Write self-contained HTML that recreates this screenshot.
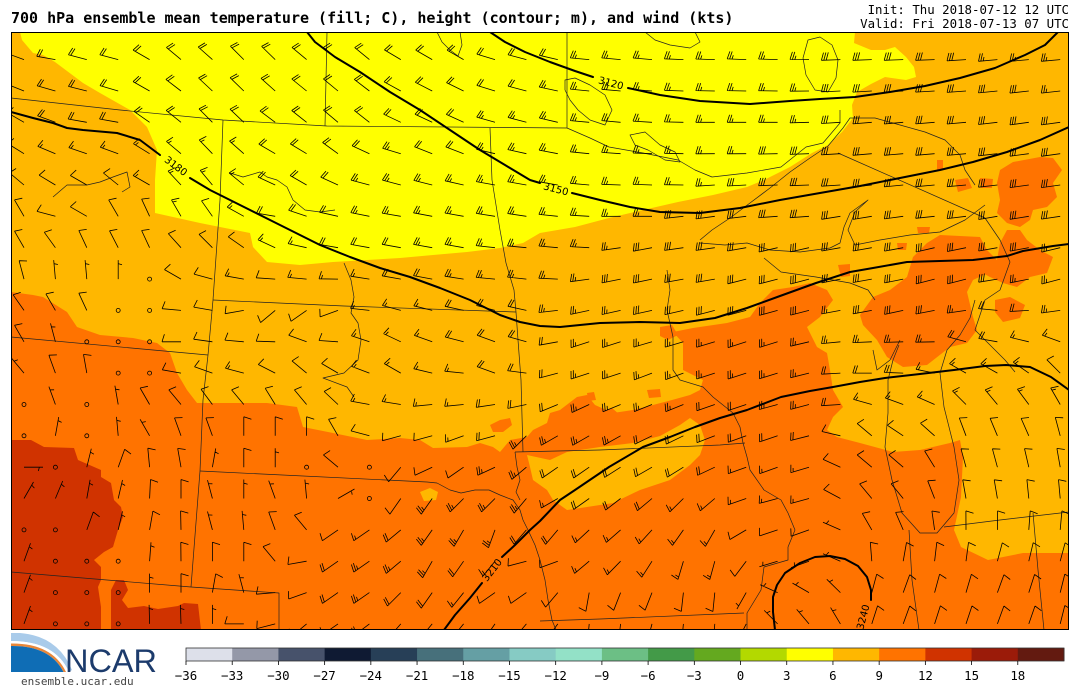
<!DOCTYPE html>
<html><head><meta charset="utf-8"><style>
html,body{margin:0;padding:0;background:#fff;}
svg{display:block;}
</style></head><body>
<svg id="s" width="1080" height="693" viewBox="0 0 1080 693" xmlns="http://www.w3.org/2000/svg">
<defs><clipPath id="mc"><rect x="11" y="32" width="1058" height="598"/></clipPath></defs>
<rect width="1080" height="693" fill="#fff"/>
<text x="11" y="23" font-family="'DejaVu Sans Mono','Liberation Mono',monospace" font-weight="bold" font-size="15" fill="#000">700 hPa ensemble mean temperature (fill; C), height (contour; m), and wind (kts)</text>
<text x="1069" y="14" text-anchor="end" font-family="'DejaVu Sans Mono','Liberation Mono',monospace" font-size="12.4" fill="#000">Init: Thu 2018-07-12 12 UTC</text>
<text x="1069" y="28" text-anchor="end" font-family="'DejaVu Sans Mono','Liberation Mono',monospace" font-size="12.4" fill="#000">Valid: Fri 2018-07-13 07 UTC</text>
<g clip-path="url(#mc)">
<rect x="11" y="32" width="1058" height="598" fill="#ffb700"/>
<polygon fill="#ffff00" points="20,32 855,32 854,43 871,50 885,50 895,47 906,57 914,67 916,77 906,80 885,77 871,84 857,92 852,105 853,118 842,132 828,145 812,153 790,167 764,180 747,187 713,195 678,202 643,210 609,218 575,227 540,233 523,243 500,248 467,252 433,255 400,258 367,260 333,262 300,265 267,262 253,247 250,233 200,223 155,213 155,180 157,150 147,127 130,110 100,93 83,83 55,62 43,55 33,53 22,40"/>
<polygon fill="#ff7300" points="11,292 33,295 43,297 67,312 77,327 100,335 133,338 157,343 170,353 177,373 187,390 197,403 233,403 267,403 297,407 303,427 333,433 367,440 400,438 420,440 433,448 467,447 480,443 493,447 500,452 510,440 527,437 533,430 547,423 550,413 560,410 577,397 587,395 595,405 613,413 633,410 653,405 672,400 690,395 700,390 703,380 683,370 683,343 673,332 693,328 727,323 750,317 760,303 773,290 793,287 810,283 827,290 833,300 820,317 807,327 817,347 827,353 830,370 833,390 843,407 833,417 827,430 837,437 860,443 893,452 920,450 950,443 960,440 963,457 961,497 954,530 961,547 988,560 1023,553 1069,553 1069,630 11,630"/>
<polygon fill="#ffb700" points="527,455 550,460 567,452 600,447 633,443 660,436 680,425 690,418 700,425 705,440 700,455 690,465 670,480 640,490 613,503 587,507 567,510 553,500 547,490 533,480 530,467"/>
<polygon fill="#ffb700" points="420,492 430,488 438,492 436,500 424,501"/>
<g fill="#ff7300">
<polygon points="490,425 500,420 510,418 512,425 503,432 493,432"/>
<polygon points="587,393 594,392 596,400 588,401"/>
<polygon points="600,412 612,408 620,415 615,425 603,424"/>
<polygon points="647,390 660,389 661,397 649,398"/>
<polygon points="660,327 672,325 678,335 668,340 660,336"/>
<polygon points="838,265 850,264 850,276 841,277"/>
<polygon points="927,243 940,235 980,237 987,250 997,260 990,272 973,280 967,292 973,317 977,330 967,343 950,347 927,365 903,367 887,357 877,340 863,325 860,315 873,297 890,290 907,277 913,257"/>
<polygon points="1000,170 1013,162 1040,157 1053,158 1062,170 1053,183 1057,197 1047,207 1033,210 1030,220 1020,227 1007,223 997,213 1000,200 997,183"/>
<polygon points="1007,230 1020,230 1027,240 1040,250 1053,257 1047,273 1030,277 1017,287 1003,283 990,277 977,270 997,260 1000,243"/>
<polygon points="995,300 1010,297 1025,305 1020,318 1003,322 995,312"/>
<polygon points="955,180 968,178 972,188 958,192"/>
<polygon points="937,160 943,160 943,170 937,170"/>
<polygon points="980,178 993,179 992,188 981,188"/>
<polygon points="897,243 907,243 906,250 898,250"/>
<polygon points="917,227 930,227 929,233 918,233"/>
</g>
<polygon fill="#d03300" points="11,440 31,440 44,447 74,448 78,460 101,470 101,477 111,483 114,500 121,507 123,517 118,530 113,547 104,552 94,560 101,567 101,580 98,587 101,607 101,630 11,630"/>
<polygon fill="#d03300" points="111,630 111,590 116,580 124,580 128,590 122,600 128,608 144,606 158,609 178,606 184,603 198,604 201,630"/>
<g fill="none" stroke="#222" stroke-width="0.7" stroke-linejoin="round">
<path d="M11,98 L120,110 L223,120 L327,126 L567,128"/>
<path d="M327,32 L326,80 L325,126"/>
<path d="M567,32 L567,128"/>
<path d="M223,120 L220,200 L213,300 L208,355 L203,400 L200,471 L191,587"/>
<path d="M11,337 L208,355"/>
<path d="M213,300 L344,306 L516,312"/>
<path d="M200,471 L427,482 L437,483 L450,490 L461,493 L475,490 L489,490 L500,495 L513,500 L520,510 L523,520 L528,530 L535,545 L540,560 L545,580 L548,600 L552,620 L556,630"/>
<path d="M11,572 L191,587 L279,593 L279,630"/>
<path d="M490,128 L492,180 L500,230 L506,263 L514,290 L516,312 L518,340 L521,380 L523,452"/>
<path d="M515,452 L600,450 L720,445 L745,443"/>
<path d="M515,452 L517,467 L520,480 L516,492 L520,500"/>
<path d="M667,270 L670,290 L667,310 L673,337 L673,370 L680,380 L703,387 L713,397 L733,413 L740,427 L743,443 L747,457 L750,470 L764,490 L781,500 L788,513 L795,530 L788,547 L788,560 L764,567 L761,590 L747,613 L747,630"/>
<path d="M540,621 L600,619 L744,613"/>
<path d="M909,530 L912,580 L919,630"/>
<path d="M1033,513 L1038,570 L1044,630"/>
<path d="M944,527 L1000,520 L1069,512"/>
<path d="M899,345 L893,360 L888,380 L888,413 L885,447 L892,480 L902,513 L920,533 L937,533 L954,513 L959,480 L954,447 L944,407 L940,373 L947,350 L960,335 L970,318 L975,300"/>
<path d="M873,350 L877,370 L890,360 L900,340"/>
<path d="M700,240 L712,230 L730,218 L750,203 L770,188 L790,172 L810,158 L828,146 L843,128 L850,118 L875,118 L900,125 L925,132 L945,140 L960,155 L965,170 L975,185"/>
<path d="M700,243 L725,245 L747,243 L770,250 L800,252 L830,248 L840,243 L844,227 L850,213 L868,200 L855,212 L848,230 L855,245 L880,240 L910,235 L940,232 L965,220 L985,205"/>
<path d="M764,258 L781,272 L816,277 L850,283 L868,290 L875,300"/>
<path d="M838,153 L985,218"/>
<path d="M985,218 L1000,240 L1010,262 L1000,290 L985,300 L975,330 L990,345 L1005,360 L1015,372"/>
<path d="M567,128 L590,138 L609,147 L643,153 L678,160 L695,170 L712,177 L747,173 L781,167 L806,147 L823,143 L840,123 L840,110"/>
<path d="M53,197 L67,185 L87,185 L100,182 L113,177 L127,172 L130,187 L122,192"/>
<path d="M230,173 L243,177 L260,172 L267,177 L277,180 L287,187 L293,200 L305,210 L320,212 L335,210"/>
<path d="M344,263 L351,280 L354,297 L351,313 L358,323 L361,340 L358,360 L344,373 L323,378 L347,387 L354,397"/>
<path d="M565,80 L575,78 L590,85 L605,95 L612,110 L605,125 L590,120 L578,110 L570,100 L565,90 Z"/>
<path d="M808,40 L820,37 L832,45 L838,60 L836,78 L828,92 L815,90 L806,75 L803,58 Z"/>
<path d="M630,135 L645,132 L660,145 L675,152 L680,162 L665,160 L648,150 L635,145 Z"/>
<path d="M645,32 L655,40 L670,45 L690,48 L700,42 L695,32"/>
<path d="M437,32 L442,42 L450,50 L458,56 L462,45 L460,32"/>
</g>
<g id="barbs" fill="none" stroke="#000" stroke-width="0.8" stroke-linecap="butt"></g>
<g fill="none" stroke="#000" stroke-width="2" stroke-linejoin="round" stroke-linecap="round">
<polyline points="490,32 505,42 525,52 550,62 575,71 593,77"/>
<polyline points="628,88 660,95 700,101 750,104 790,101 820,99 855,97 890,92 925,86 960,78 995,68 1025,55 1045,45 1058,32"/>
<polyline points="307,32 315,42 335,57 360,72 390,92 420,110 450,130 480,150 505,165 530,180 540,183"/>
<polyline points="572,193 600,200 630,207 660,212 700,213 740,208 780,200 820,193 860,186 900,178 940,170 973,162 1007,152 1040,140 1069,127"/>
<polyline points="11,112 33,118 53,123 67,128 83,130 117,133 140,140 160,155"/>
<polyline points="190,178 210,190 240,205 270,220 300,235 320,245 350,257 380,268 410,277 440,288 470,300 500,315 520,322 540,326 560,327 600,323 640,322 680,323 715,318 747,308 780,296 816,283 850,272 873,268 907,262 940,261 973,260 1007,256 1023,251 1053,246 1069,244"/>
<polyline points="444,630 455,615 470,598 482,583"/>
<polyline points="502,557 515,545 530,530 540,521 560,500 575,490 609,467 643,447 670,437 695,427 720,418 747,410 781,397 810,391 833,387 860,382 885,378 920,374 954,370 985,366 1006,365 1030,367 1051,377 1069,390"/>
<polyline points="775,630 773,612 773,597 777,585 785,573 800,563 815,557 830,556 845,559 858,566 867,577 871,590 871,600"/>
</g>
<g font-family="'DejaVu Sans','Liberation Sans',sans-serif" font-size="10" fill="#000" text-anchor="middle">
<text transform="translate(176,166) rotate(37)" y="3.5">3180</text>
<text transform="translate(556,189) rotate(15)" y="3.5">3150</text>
<text transform="translate(611,83) rotate(15)" y="3.5">3120</text>
<text transform="translate(492,570) rotate(-52)" y="3.5">3210</text>
<text transform="translate(863,617) rotate(-75)" y="3.5">3240</text>
</g>
</g>
<rect x="11.5" y="32.5" width="1057" height="597" fill="none" stroke="#000" stroke-width="1"/>
<g id="cbar"></g>
<g font-family="'DejaVu Sans Mono','Liberation Mono',monospace" font-size="12.4" fill="#000" text-anchor="middle">
<text x="186" y="680">−36</text><text x="232.2" y="680">−33</text><text x="278.4" y="680">−30</text><text x="324.6" y="680">−27</text><text x="370.8" y="680">−24</text><text x="417.1" y="680">−21</text><text x="463.3" y="680">−18</text><text x="509.5" y="680">−15</text><text x="555.7" y="680">−12</text><text x="601.9" y="680">−9</text><text x="648.1" y="680">−6</text><text x="694.3" y="680">−3</text><text x="740.5" y="680">0</text><text x="786.7" y="680">3</text><text x="832.9" y="680">6</text><text x="879.2" y="680">9</text><text x="925.4" y="680">12</text><text x="971.6" y="680">15</text><text x="1017.8" y="680">18</text>
</g>
<path d="M11,633 L20,633 Q58,636 72,670 L69,672 Q55,641 11,641 Z" fill="#a9cbea"/>
<path d="M11,641 Q55,641 69,672 L66,672 Q52,643 11,643.5 Z" fill="#ffffff"/>
<path d="M11,643.5 Q52,643 66,672 L63.5,672 Q50,645.5 11,646 Z" fill="#e8873a"/>
<path d="M11,646 Q50,645.5 63.5,672 L11,672 Z" fill="#0f6db5"/>
<text x="65" y="672" font-family="'Liberation Sans',Arial,sans-serif" font-size="32" fill="#1c3b6c" textLength="92" lengthAdjust="spacingAndGlyphs">NCAR</text>
<text x="21" y="685" font-family="'DejaVu Sans Mono','Liberation Mono',monospace" font-size="11" fill="#444">ensemble.ucar.edu</text>
</svg>
<script>
(function(){
var NS="http://www.w3.org/2000/svg";
function el(tag,attrs,parent){var e=document.createElementNS(NS,tag);for(var k in attrs){e.setAttribute(k,attrs[k]);}parent.appendChild(e);return e;}
var cols=['#dde0ea','#9498a8','#47526b','#0f1a33','#273f57','#47707b','#659fa4','#86cbc4','#93e1c7','#6cbf85','#439a48','#64a91f','#b3d900','#ffff00','#ffb700','#ff7300','#d03300','#9b1b09','#631a10'];
var cb=document.getElementById('cbar');var x0=186,w=(1064-186)/19;
for(var i=0;i<19;i++){el('rect',{x:x0+i*w,y:648,width:w+0.5,height:13,fill:cols[i]},cb);}
el('rect',{x:186,y:648,width:878,height:13,fill:'none',stroke:'#333','stroke-width':0.8},cb);
for(var i=0;i<19;i++){var xx=x0+i*w;el('line',{x1:xx,y1:661,x2:xx,y2:665,stroke:'#000','stroke-width':0.8},cb);}
var A=[
[24,60,290,10],[55,60,280,20],[87,60,285,20],[118,60,285,20],[150,60,300,20],[181,60,310,20],[244,60,315,20],[340,60,310,20],[440,60,300,20],[530,60,285,20],[600,60,275,25],[750,60,272,25],[900,60,268,30],[1060,60,265,25],
[24,122,300,10],[55,122,290,20],[87,122,280,20],[118,122,280,20],[150,122,305,20],[212,122,315,20],[340,122,310,20],[440,122,295,20],[530,122,285,25],[600,122,275,25],[750,122,270,25],[900,122,265,30],[1060,122,262,30],
[24,185,310,10],[87,185,300,10],[150,185,300,15],[212,185,320,15],[300,185,300,20],[400,185,285,25],[530,185,280,25],[650,185,272,25],[800,185,268,30],[950,185,265,30],[1060,185,262,30],
[24,216,330,10],[55,216,285,10],[87,216,300,10],[118,216,330,10],[150,216,335,10],[181,216,330,15],[212,216,325,10],[275,216,280,20],[400,216,280,25],
[24,247,330,10],[87,247,335,10],[150,247,335,10],[212,247,315,10],[244,247,305,10],[275,247,295,15],[338,247,280,20],[450,247,280,25],[560,247,275,25],[700,247,262,30],[850,247,260,30],[1000,247,260,30],
[24,279,345,10],[55,279,355,5],[87,279,355,5],[118,279,0,5],[149,279,0,0],[181,279,300,10],[212,279,285,10],[244,279,280,15],[306,279,275,15],[400,279,280,20],[500,279,275,25],[650,279,258,30],[800,279,255,30],[950,279,255,30],[1060,279,255,25],
[24,310,325,10],[55,310,330,10],[87,310,335,10],[118,310,0,0],[149,310,0,0],[181,310,275,10],[212,310,280,10],[244,310,260,10],[275,310,230,10],[306,310,235,10],[338,310,250,10],[400,310,285,15],[500,310,285,20],[600,310,258,25],[750,310,255,30],[900,310,258,30],[1060,310,262,25],
[24,342,330,10],[55,342,345,5],[87,342,0,0],[118,342,0,0],[149,342,0,0],[181,342,270,10],[244,342,275,10],[306,342,290,10],[400,342,295,15],[500,342,290,20],[600,342,252,25],[750,342,252,25],[900,342,268,25],[1000,342,280,20],[1060,342,290,15],
[24,373,320,5],[55,373,340,10],[87,373,350,10],[118,373,0,0],[149,373,0,0],[181,373,280,10],[244,373,285,15],[306,373,310,10],[400,373,300,15],[500,373,290,20],[600,373,252,25],[750,373,252,25],[880,373,270,20],[980,373,300,15],[1060,373,315,10],
[24,405,0,0],[55,405,340,5],[87,405,0,0],[118,405,350,5],[150,405,330,10],[181,405,320,10],[244,405,320,10],[306,405,320,10],[380,405,280,15],[450,405,265,15],[530,405,258,20],[650,405,248,25],[800,405,255,25],[900,405,290,15],[1000,405,320,15],[1060,405,330,15],
[24,436,0,0],[55,436,10,5],[87,436,0,0],[150,436,330,5],[181,436,340,10],[212,436,340,10],[244,436,0,10],[275,436,0,10],[306,436,0,10],[338,436,330,10],[369,436,285,10],[400,436,255,10],[432,436,255,10],[463,436,250,15],[495,436,255,20],[526,436,225,25],[558,436,240,25],[589,436,240,25],[750,436,250,20],[880,436,310,10],[980,436,340,10],[1060,436,345,10],
[24,467,90,5],[55,467,0,0],[118,467,20,10],[181,467,350,10],[212,467,10,5],[244,467,0,10],[275,467,0,5],[306,467,0,0],[338,467,310,10],[369,467,0,0],[400,467,220,10],[432,467,245,10],[463,467,235,10],[495,467,245,25],[526,467,230,25],[558,467,235,20],[589,467,235,20],[650,467,240,20],[780,467,250,15],[880,467,310,10],[980,467,345,10],[1060,467,350,10],
[24,499,30,5],[87,499,10,5],[181,499,0,10],[212,499,345,5],[244,499,0,5],[275,499,340,5],[306,499,355,5],[338,499,60,5],[369,499,0,0],[400,499,215,10],[432,499,215,25],[463,499,225,25],[495,499,225,25],[526,499,220,25],[558,499,240,15],[650,499,230,20],[780,499,255,15],[880,499,320,10],[980,499,350,10],[1060,499,355,10],
[24,530,0,0],[55,530,0,0],[87,530,20,10],[150,530,10,10],[212,530,345,5],[244,530,355,5],[275,530,340,10],[306,530,320,10],[338,530,235,10],[369,530,235,15],[400,530,230,20],[432,530,215,25],[463,530,210,25],[495,530,200,25],[558,530,220,20],[680,530,215,15],[800,530,250,10],[880,530,330,10],[980,530,0,10],[1060,530,5,10],
[24,562,20,5],[87,562,0,0],[118,562,0,0],[212,562,0,10],[244,562,0,10],[275,562,320,10],[306,562,260,10],[338,562,235,20],[369,562,235,25],[400,562,230,25],[432,562,210,25],[463,562,215,20],[526,562,255,10],[558,562,250,10],[589,562,230,15],[700,562,195,15],[800,562,250,5],[900,562,10,10],[1000,562,15,10],[1060,562,15,10],
[24,593,20,5],[55,593,0,0],[87,593,0,0],[150,593,0,5],[181,593,0,10],[212,593,10,10],[244,593,345,5],[275,593,265,10],[306,593,250,10],[338,593,235,20],[369,593,235,25],[400,593,225,20],[432,593,215,20],[495,593,235,10],[526,593,235,10],[558,593,220,10],[589,593,190,10],[700,593,185,10],[800,593,300,5],[900,593,20,10],[1000,593,20,10],
[24,624,20,5],[87,624,0,0],[212,624,0,5],[244,624,270,10],[306,624,230,15],[420,624,220,20],[500,624,215,20],[600,624,185,10],[700,624,185,10],[800,624,320,5],[900,624,20,10],[1000,624,20,10]
];
function wind(x,y){var su=0,sv=0,sw=0;for(var k=0;k<A.length;k++){var a=A[k];var dx=x-a[0],dy=y-a[1];var d2=dx*dx+dy*dy;if(d2<4)return[a[2],a[3]];var ww=1/(d2*d2);var r=a[2]*Math.PI/180;su+=ww*a[3]*Math.sin(r);sv+=ww*a[3]*Math.cos(r);sw+=ww;}
su/=sw;sv/=sw;return[Math.atan2(su,sv)*180/Math.PI,Math.sqrt(su*su+sv*sv)];}
var L=19,sp=0.125*L,fh=0.4*L,fw=0.25*L;var d='';
var g=document.getElementById('barbs');
function f(v){return v.toFixed(1);}
for(var j=0;j<19;j++){var y=59.6+31.35*j;
for(var i=0;i<34;i++){var x=24+31.4*i;var wv=wind(x,y);var n=Math.round(wv[1]/5)*5;
if(n<5){el('circle',{cx:f(x),cy:f(y),r:2},g);continue;}
var th=wv[0]*Math.PI/180;var sx=Math.sin(th),sy=-Math.cos(th);var px=-sy,py=sx;
var tx=x+L*sx,ty=y+L*sy;d+='M'+f(x)+','+f(y)+'L'+f(tx)+','+f(ty);
var full=Math.floor(n/10),half=(n%10)>=5;var o=L;
for(var b=0;b<full;b++){var bx=x+o*sx,by=y+o*sy;d+='M'+f(bx)+','+f(by)+'L'+f(bx+fh*px-fw/2*sx)+','+f(by+fh*py-fw/2*sy);o-=sp;}
if(half){if(full==0)o-=1.5*sp;var bx2=x+o*sx,by2=y+o*sy;d+='M'+f(bx2)+','+f(by2)+'L'+f(bx2+fh/2*px-fw/4*sx)+','+f(by2+fh/2*py-fw/4*sy);}
}}
el('path',{d:d},g);
})();
</script>
</body></html>
